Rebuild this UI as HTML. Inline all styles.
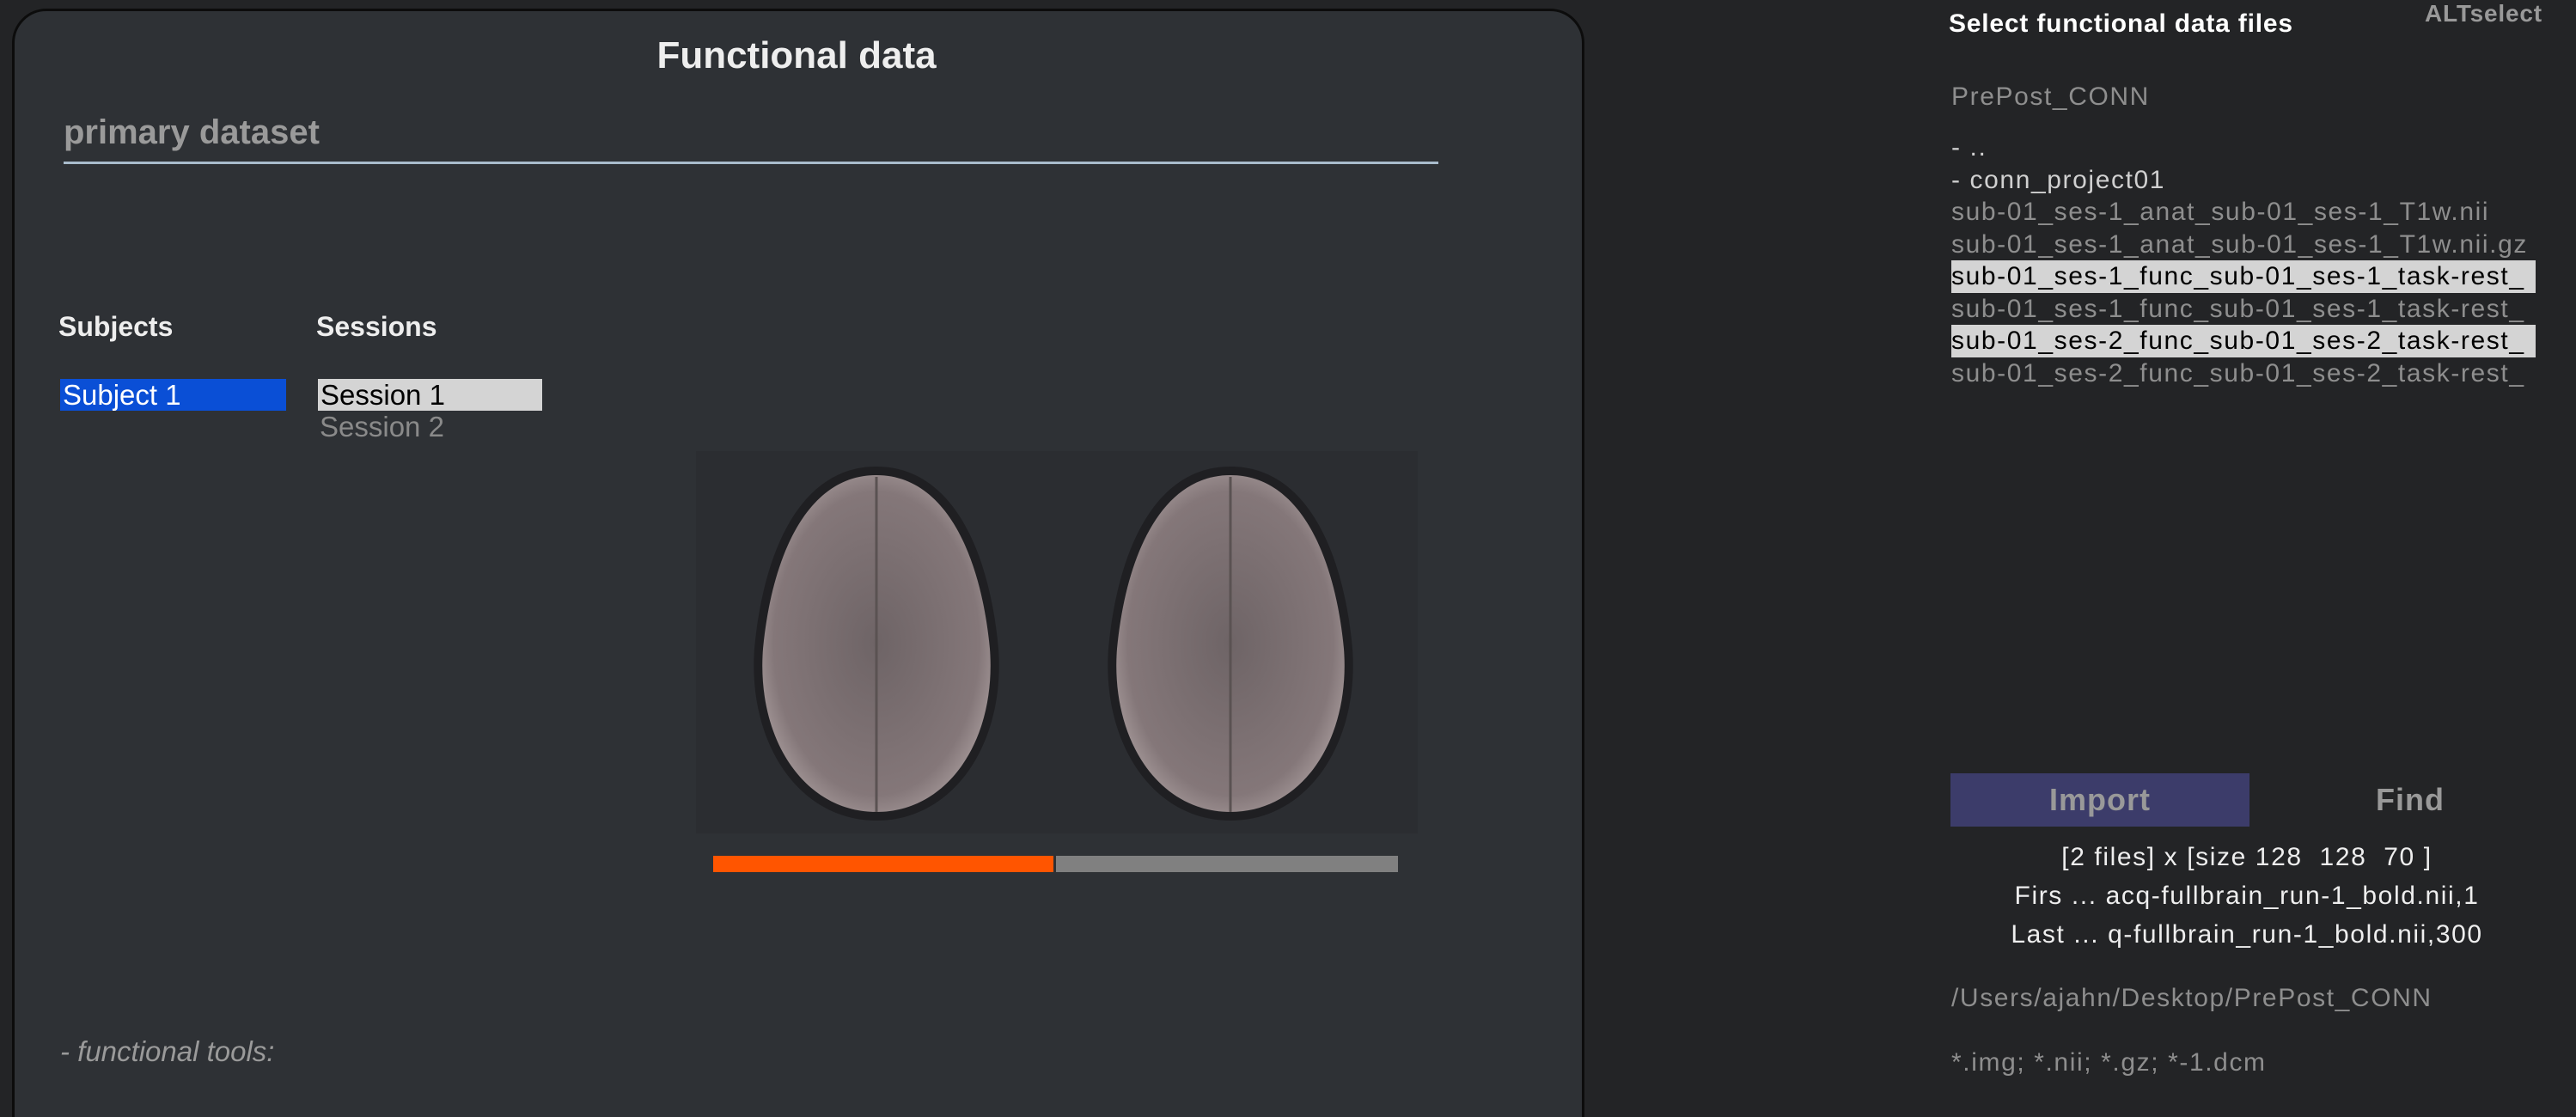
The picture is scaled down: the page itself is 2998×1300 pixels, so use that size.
<!DOCTYPE html>
<html><head><meta charset="utf-8"><style>
html,body{margin:0;padding:0;background:#232426;width:2998px;height:1300px;overflow:hidden;font-family:"Liberation Sans",sans-serif}
#root{position:relative;width:2998px;height:1300px;overflow:hidden}
.a{position:absolute;white-space:nowrap}
.n{font-family:"Liberation Sans Narrow","Liberation Sans",sans-serif}
#panel{position:absolute;left:14px;top:10px;width:1824px;height:1330px;background:#2e3135;border:3px solid #0c0c0c;border-radius:40px}
.r{font-size:30px;letter-spacing:1.6px;color:#8e8e8e;left:2271px}
</style></head><body><div id="root">
<div id="panel"></div>
<div class="a n" style="left:0;width:1854px;text-align:center;top:40px;font-size:44px;font-weight:bold;color:#eee">Functional data</div>
<div class="a n" style="left:74px;top:132px;font-size:40px;font-weight:bold;color:#9a9a9a">primary dataset</div>
<div class="a" style="left:74px;top:188px;width:1600px;height:3px;background:#a9bccc"></div>
<div class="a n" style="left:68px;top:362px;font-size:32px;font-weight:bold;color:#eee">Subjects</div>
<div class="a n" style="left:368px;top:362px;font-size:32px;font-weight:bold;color:#eee">Sessions</div>
<div class="a n" style="left:70px;top:441px;width:260px;height:37px;background:#0a4fd6;color:#fff;font-size:33px;line-height:37px;padding-left:3px">Subject 1</div>
<div class="a n" style="left:370px;top:441px;width:258px;height:37px;background:#d4d4d4;color:#000;font-size:33px;line-height:37px;padding-left:3px">Session 1</div>
<div class="a n" style="left:372px;top:478px;font-size:33px;line-height:37px;color:#8a8a8a">Session 2</div>
<svg class="a" style="left:800px;top:525px" width="850" height="445">
<defs><radialGradient id="g" cx="50%" cy="50%" r="60%"><stop offset="0" stop-color="#6e6466"/><stop offset="0.75" stop-color="#847779"/><stop offset="1" stop-color="#b4a8a8"/></radialGradient></defs>
<rect x="10" y="0" width="840" height="445" fill="#2b2d31"/>
<g>
<path d="M220,18 C130,18 88,120 78,230 C70,340 130,430 220,430 C310,430 370,340 362,230 C352,120 310,18 220,18 Z" fill="#1f1f22"/>
<path d="M220,28 C138,28 98,125 88,230 C80,335 136,420 220,420 C304,420 360,335 352,230 C342,125 302,28 220,28 Z" fill="url(#g)"/>
<line x1="220" y1="30" x2="220" y2="420" stroke="#5a5252" stroke-width="3"/></g>
<g>
<path d="M632,18 C542,18 500,120 490,230 C482,340 542,430 632,430 C722,430 782,340 774,230 C764,120 722,18 632,18 Z" fill="#1f1f22"/>
<path d="M632,28 C550,28 510,125 500,230 C492,335 548,420 632,420 C716,420 772,335 764,230 C754,125 714,28 632,28 Z" fill="url(#g)"/>
<line x1="632" y1="30" x2="632" y2="420" stroke="#5a5252" stroke-width="3"/></g>
</svg>
<div class="a" style="left:830px;top:996px;width:396px;height:19px;background:#ff5500"></div>
<div class="a" style="left:1229px;top:996px;width:398px;height:19px;background:#808080"></div>
<div class="a n" style="left:70px;top:1205px;font-size:33px;font-style:italic;color:#9a9a9a">- functional tools:</div>

<div class="a" style="left:2268px;top:11px;font-size:30px;font-weight:bold;color:#fff;letter-spacing:0.8px">Select functional data files</div>
<div class="a" style="left:2822px;top:0px;font-size:28px;font-weight:bold;color:#999;letter-spacing:0.8px">ALTselect</div>
<div class="a r" style="top:96px">PrePost_CONN</div>
<div class="a r" style="top:153px;line-height:37.5px">
<div style="color:#d0d0d0">- ..</div>
<div style="color:#d0d0d0">- conn_project01</div>
<div>sub-01_ses-1_anat_sub-01_ses-1_T1w.nii</div>
<div>sub-01_ses-1_anat_sub-01_ses-1_T1w.nii.gz</div>
<div style="background:#d4d4d4;color:#000;width:680px;overflow:hidden">sub-01_ses-1_func_sub-01_ses-1_task-rest_</div>
<div>sub-01_ses-1_func_sub-01_ses-1_task-rest_</div>
<div style="background:#d4d4d4;color:#000;width:680px;overflow:hidden">sub-01_ses-2_func_sub-01_ses-2_task-rest_</div>
<div>sub-01_ses-2_func_sub-01_ses-2_task-rest_</div>
</div>
<div class="a" style="left:2270px;top:900px;width:348px;height:62px;background:#3c3c6a;color:#999;font-size:36px;font-weight:bold;text-align:center;line-height:62px;letter-spacing:1px">Import</div>
<div class="a" style="left:2640px;top:900px;width:330px;height:62px;color:#999;font-size:36px;font-weight:bold;text-align:center;line-height:62px;letter-spacing:1px">Find</div>
<div class="a" style="left:2270px;width:690px;top:975px;text-align:center;font-size:30px;line-height:45px;color:#eee;letter-spacing:1.6px">
<div>[2 files] x [size 128 &nbsp;128 &nbsp;70 ]</div><div>Firs ... acq-fullbrain_run-1_bold.nii,1</div><div>Last ... q-fullbrain_run-1_bold.nii,300</div></div>
<div class="a r" style="top:1145px">/Users/ajahn/Desktop/PrePost_CONN</div>
<div class="a r" style="top:1220px">*.img; *.nii; *.gz; *-1.dcm</div>
</div></body></html>
